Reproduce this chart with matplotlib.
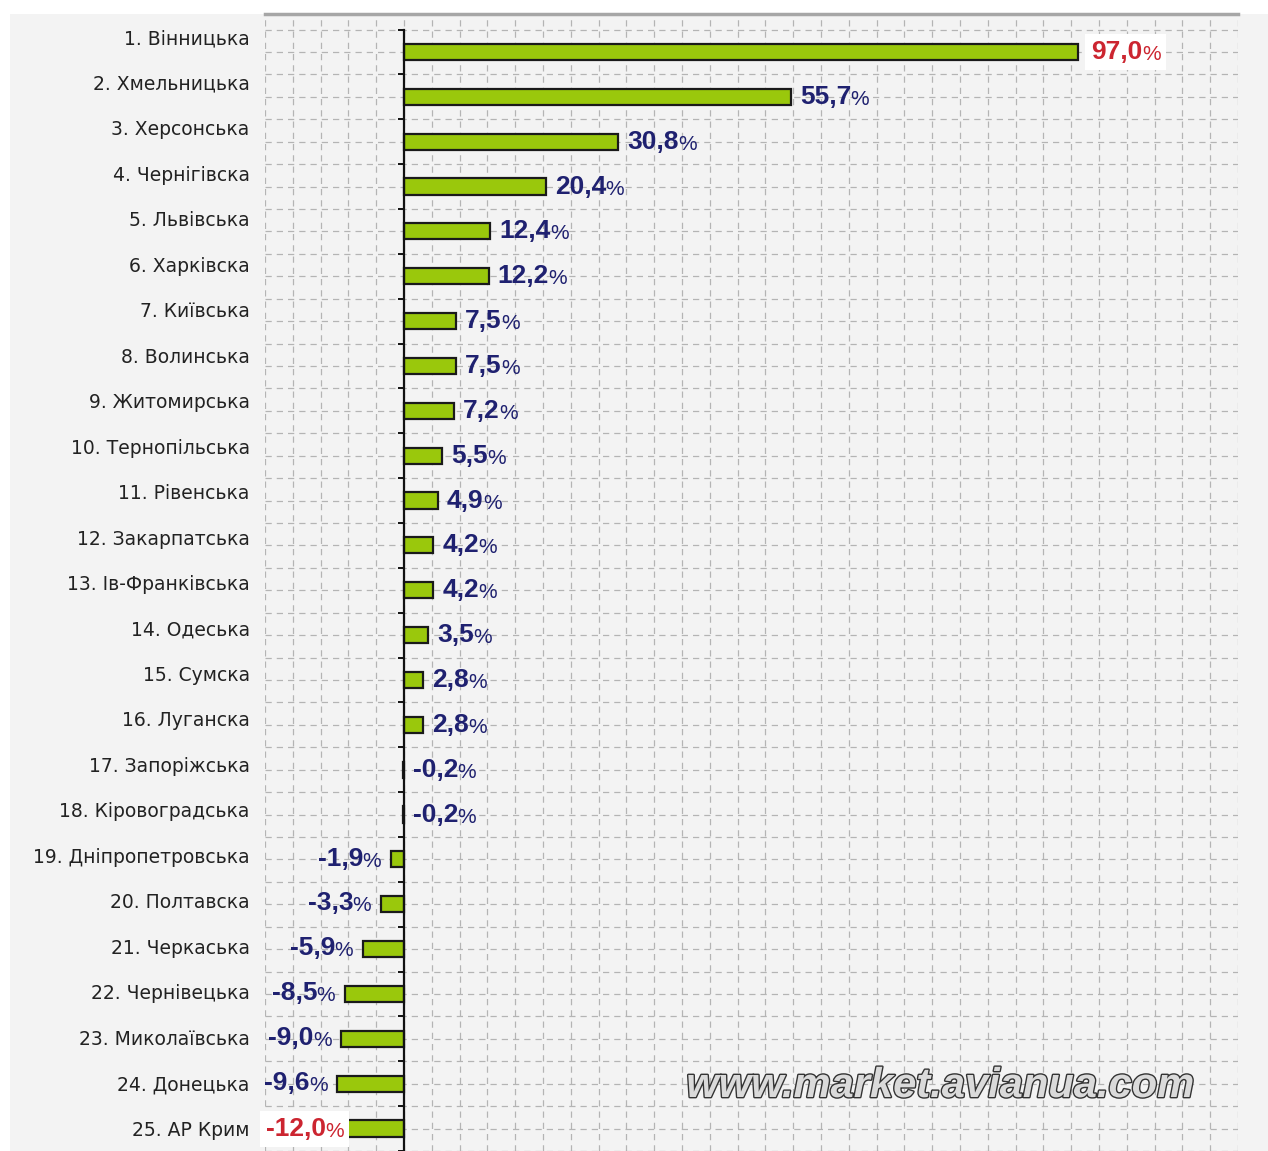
import matplotlib.pyplot as plt
import matplotlib.patches as patches
import matplotlib.patheffects as pe
from matplotlib.transforms import Bbox
import numpy as np

regions = ['1. Вінницька', '2. Хмельницька', '3. Херсонська', '4. Чернігівска',
           '5. Львівська', '6. Харківска', '7. Київська', '8. Волинська',
           '9. Житомирська', '10. Тернопільська', '11. Рівенська', '12. Закарпатська',
           '13. Ів-Франківська', '14. Одеська', '15. Сумска', '16. Луганска',
           '17. Запоріжська', '18. Кіровоградська', '19. Дніпропетровська',
           '20. Полтавска', '21. Черкаська', '22. Чернівецька', '23. Миколаївська',
           '24. Донецька', '25. АР Крим']
values = [97.0, 55.7, 30.8, 20.4, 12.4, 12.2, 7.5, 7.5, 7.2, 5.5, 4.9, 4.2, 4.2,
          3.5, 2.8, 2.8, -0.2, -0.2, -1.9, -3.3, -5.9, -8.5, -9.0, -9.6, -12.0]
value_text = ['97,0', '55,7', '30,8', '20,4', '12,4', '12,2', '7,5', '7,5', '7,2',
              '5,5', '4,9', '4,2', '4,2', '3,5', '2,8', '2,8', '-0,2', '-0,2',
              '-1,9', '-3,3', '-5,9', '-8,5', '-9,0', '-9,6', '-12,0']

FONT = 'Liberation Sans'
NAVY = '#1f2170'
RED = '#cc2530'
BAR = '#9ac80c'

n = len(values)
xmin, xmax = -20, 120

fig = plt.figure(figsize=(12.68, 11.51), dpi=100)
fig.patch.set_facecolor('white')
fig.patches.append(patches.Rectangle((10 / 1268, 0), 1 - 10 / 1268, 1 - 14 / 1151,
                                     transform=fig.transFigure, facecolor='#f3f3f3',
                                     edgecolor='none', zorder=-10))

ax = fig.add_axes([265 / 1268, 0, (1238 - 265) / 1268, 1 - 14 / 1151])
ax.set_facecolor('#f4f4f4')
ax.patch.set_alpha(0)

y = np.arange(n)
ax.barh(y, values, height=0.36, color=BAR, edgecolor='#1a1a1a', linewidth=1.6, zorder=3)

ax.set_xlim(xmin, xmax)
ax.set_ylim(n - 0.52, -0.846)

# dashed grid
ax.set_xticks(np.arange(xmin, xmax + 1, 4))
ax.set_yticks(y)
ax.set_yticks(np.arange(-0.5, n, 1.0), minor=True)
ax.grid(True, which='both', color='#b4b4b4', linestyle=(0, (5, 4)), linewidth=0.9, zorder=0)
ax.tick_params(axis='x', length=0, labelbottom=False)
ax.tick_params(axis='y', which='major', length=0, labelleft=False)
ax.tick_params(axis='y', which='minor', length=4, width=1.4, direction='out', color='#111')

for s in ['right', 'bottom']:
    ax.spines[s].set_visible(False)
ax.spines['top'].set_color('#a6a6a6')
ax.spines['top'].set_linewidth(2.5)
ax.spines['left'].set_position(('data', 0))
ax.spines['left'].set_bounds(-0.5, n)
ax.spines['left'].set_linewidth(1.6)
ax.spines['left'].set_color('#111')
ax.spines['left'].set_zorder(4)

# category labels on their own evenly spaced scale
ax2 = ax.twinx()
ax2.set_ylim(n - 0.5, -0.5)
ax2.set_yticks(y)
ax2.set_yticklabels(regions, fontfamily='DejaVu Sans', fontsize=13.5, color='#222222')
ax2.yaxis.tick_left()
ax2.tick_params(axis='y', length=0, pad=11)
for s in ax2.spines.values():
    s.set_visible(False)

# value labels
vmax, vmin = max(values), min(values)
boxed = []
for i, (v, t) in enumerate(zip(values, value_text)):
    red = v in (vmax, vmin)
    col = RED if red else NAVY
    if v >= -0.5 or v == vmin:
        if v == vmin:
            anchor, off = (xmin, i), (1, 0)
        else:
            anchor, off = (max(v, 0), i), (6.5 + (3 if red else 0), 0)
        num = ax.annotate(t, anchor, xytext=off, textcoords='offset points',
                          ha='left', va='center', fontfamily=FONT, fontsize=19,
                          fontweight='bold', color=col, zorder=6)
        pct = ax.annotate('%', (1, 0), xycoords=num, xytext=(-0.5, 0),
                          textcoords='offset points', ha='left', va='bottom',
                          fontfamily=FONT, fontsize=15, color=col, zorder=6)
    else:
        pct = ax.annotate('%', (v, i), xytext=(-7, -1.2), textcoords='offset points',
                          ha='right', va='center', fontfamily=FONT, fontsize=15,
                          color=col, zorder=6)
        num = ax.annotate(t, (0, 0), xycoords=pct, xytext=(0.5, 0), textcoords='offset points',
                          ha='right', va='bottom', fontfamily=FONT, fontsize=19,
                          fontweight='bold', color=col, zorder=6)
    if red:
        boxed.append((num, pct))

# white boxes behind the highlighted labels
fig.canvas.draw()
r = fig.canvas.get_renderer()
for num, pct in boxed:
    bb = Bbox.union([num.get_window_extent(r), pct.get_window_extent(r)])
    (x0, y0), (x1, y1) = ax.transAxes.inverted().transform([[bb.x0 - 6, bb.y0 - 6],
                                                            [bb.x1 + 5, bb.y1 + 6]])
    ax.add_patch(patches.Rectangle((x0, y0), x1 - x0, y1 - y0, transform=ax.transAxes,
                                   facecolor='white', edgecolor='none', zorder=5,
                                   clip_on=False))

# watermark
fig.text(940 / 1268, 1 - 1086 / 1151, 'www.market.avianua.com', ha='center', va='center',
         fontfamily=FONT, fontsize=30, fontweight='bold', fontstyle='italic',
         color='#dadada',
         path_effects=[pe.Stroke(linewidth=2.0, foreground='#333333'), pe.Normal()])

fig.savefig('out.png', dpi=100, facecolor=fig.get_facecolor())
